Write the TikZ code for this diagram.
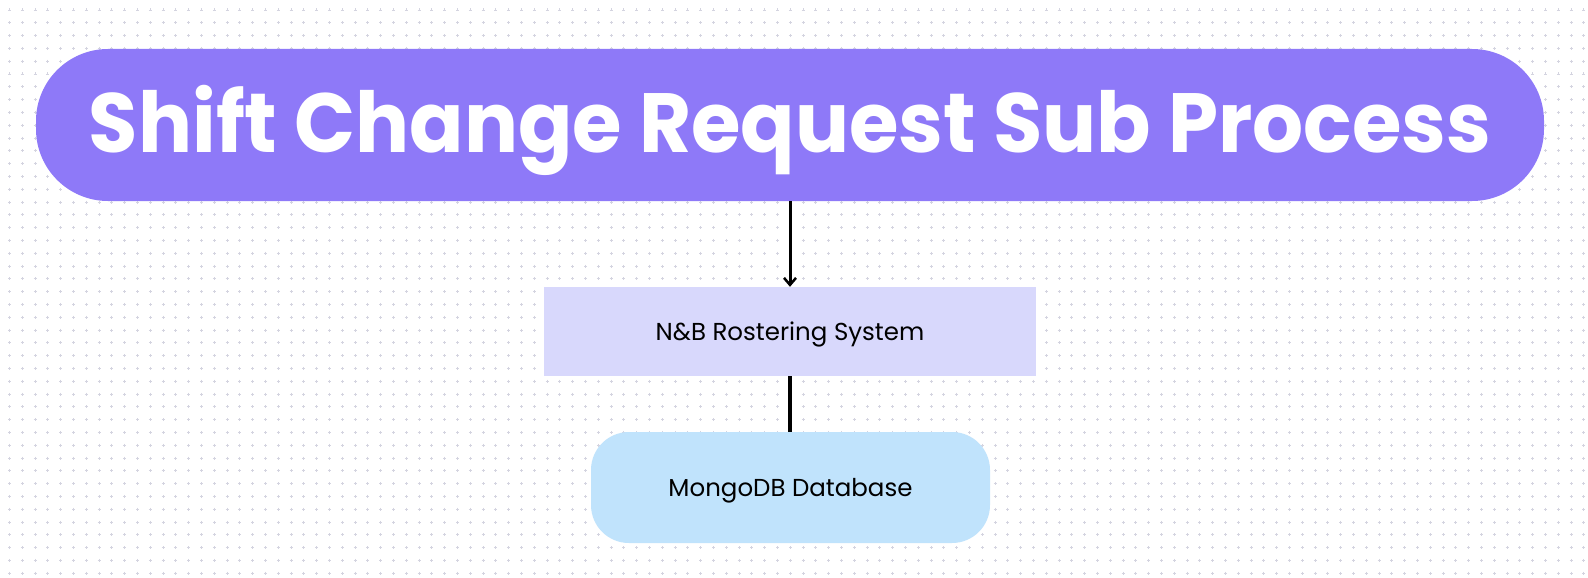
\documentclass[tikz,border=0pt]{standalone}
\usepackage{fontspec}
\setmainfont{Poppins}
\usetikzlibrary{arrows.meta}
\definecolor{titlefill}{HTML}{8E79F8}
\definecolor{rectfill}{HTML}{D8D8FC}
\definecolor{dbfill}{HTML}{C0E3FC}
\definecolor{dotcol}{HTML}{D4D4E0}
\newcommand{\lowerby}[2]{\raisebox{-#1}[\height][\depth]{#2}}
\tikzset{
  titlebox/.style={fill=titlefill, rounded corners=72pt, minimum width=1508pt, minimum height=152pt, inner sep=0pt, text=white, font=\fontsize{84}{90}\selectfont\bfseries},
  sysbox/.style={fill=rectfill, minimum width=492pt, minimum height=89pt, inner sep=0pt, font=\fontsize{24.5}{28}\selectfont},
  dbbox/.style={fill=dbfill, rounded corners=38pt, minimum width=399pt, minimum height=111pt, inner sep=0pt, font=\fontsize{24.5}{28}\selectfont},
  link/.style={line width=3pt, black},
  gridmark/.style={dotcol, line width=0.9pt}
}
\begin{document}
\begin{tikzpicture}[x=1pt,y=-1pt]
\useasboundingbox (0,0) rectangle (1588,578);
\fill[white] (0,0) rectangle (1588,578);
\foreach \i in {0,...,123}{
  \foreach \j in {0,...,44}{
    \pgfmathsetmacro{\px}{9.5+12.8*\i}
    \pgfmathsetmacro{\py}{10+12.8*\j}
    \draw[gridmark] (\px-1.5,\py) -- (\px+1.5,\py) (\px,\py-1.5) -- (\px,\py+1.5);
  }
}
\node[titlebox] (title) at (790,125) {\lowerby{5pt}{\scalebox{0.955}[1]{Shift Change Request Sub Process}}};
\node[sysbox] (sys) at (790,331.5) {\lowerby{3pt}{N\&B Rostering System}};
\node[dbbox] (db) at (790.5,487.5) {\lowerby{3pt}{MongoDB Database}};
\draw[link, -{Straight Barb[length=7pt,width=12pt,line width=2.5pt]}] (title.south -| sys.north) -- (sys.north);
\draw[line width=4pt] (sys.south) -- (sys.south |- db.north);
\end{tikzpicture}
\end{document}
